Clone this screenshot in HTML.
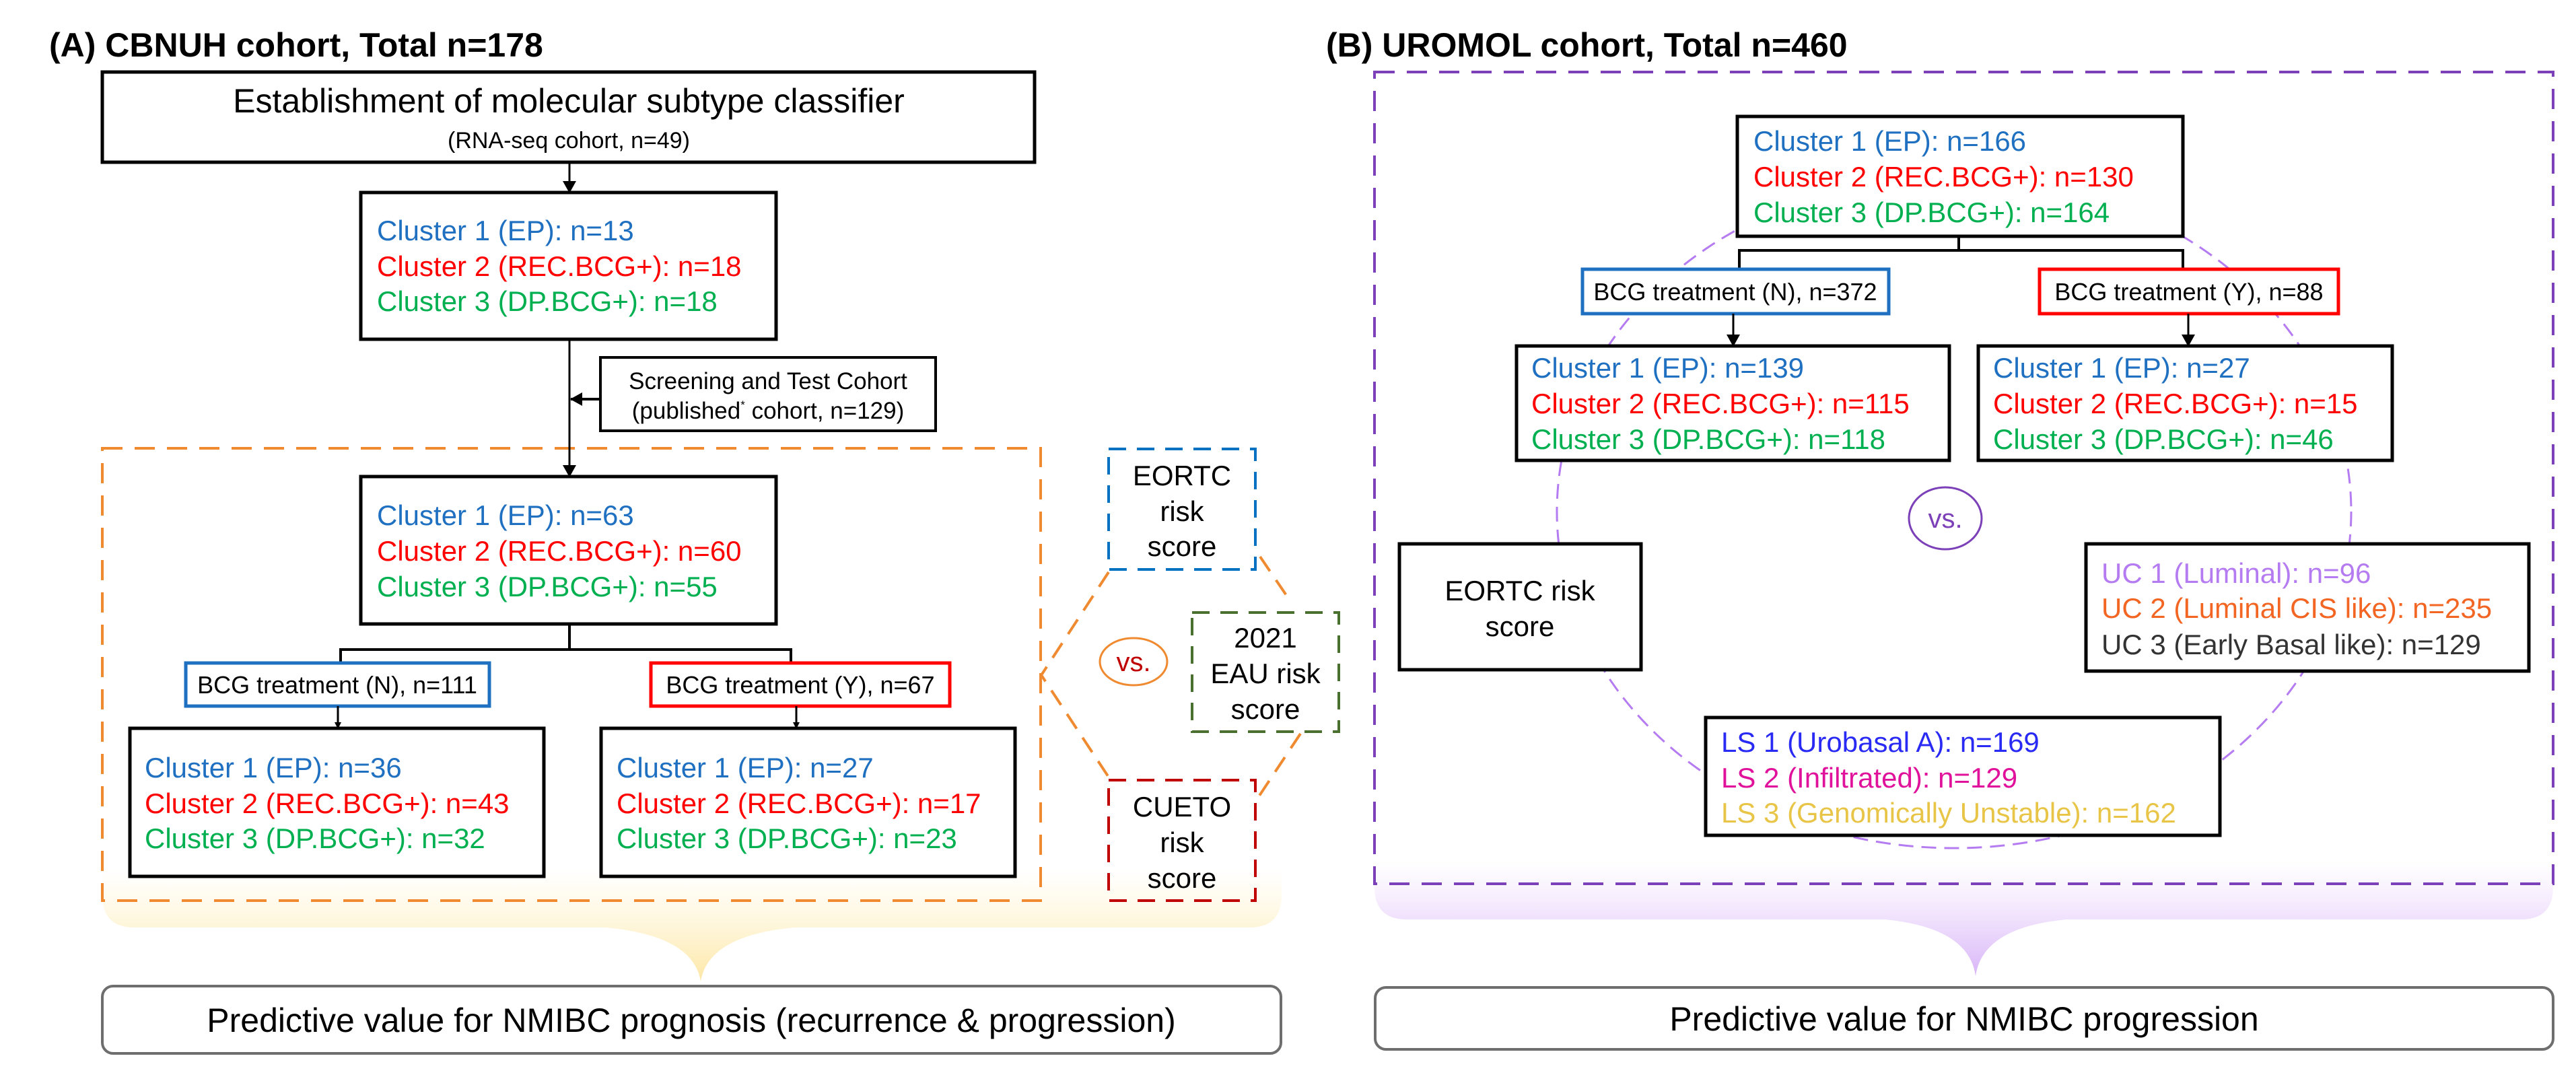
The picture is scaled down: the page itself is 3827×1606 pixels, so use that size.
<!DOCTYPE html>
<html><head><meta charset="utf-8"><style>
html,body{margin:0;padding:0;background:#fff;}
svg{display:block;}
text{font-family:"Liberation Sans",Arial,sans-serif;}
</style></head><body>
<svg width="3827" height="1606" viewBox="0 0 3827 1606" xmlns="http://www.w3.org/2000/svg">
<defs>
<linearGradient id="gy" x1="0" y1="0" x2="0" y2="1">
<stop offset="0" stop-color="#fff3c8" stop-opacity="0"/>
<stop offset="1" stop-color="#fde7a6"/>
</linearGradient>
<linearGradient id="gp" x1="0" y1="0" x2="0" y2="1">
<stop offset="0" stop-color="#e9d2fb" stop-opacity="0"/>
<stop offset="1" stop-color="#d8b4f8"/>
</linearGradient>
<marker id="ah" markerWidth="10" markerHeight="10" refX="9" refY="5" orient="auto" markerUnits="userSpaceOnUse">
<path d="M0,0 L10,5 L0,10 z" fill="#000"/>
</marker>
<marker id="ah2" markerWidth="18" markerHeight="20" refX="17" refY="10" orient="auto" markerUnits="userSpaceOnUse">
<path d="M0,0 L18,10 L0,20 z" fill="#000"/>
</marker>
</defs>

<!-- ================= A ================= -->
<text x="73" y="84" font-size="50" font-weight="bold">(A) CBNUH cohort, Total n=178</text>

<path d="M152,1290 L152,1330 Q152,1378 200,1378 L900,1378 Q1030,1390 1041,1458 Q1052,1390 1180,1378 L1856,1378 Q1904,1378 1904,1330 L1904,1290 Z" fill="url(#gy)"/>

<rect x="152" y="107" width="1385" height="134" fill="#fff" stroke="#000" stroke-width="5"/>
<text x="845" y="167" font-size="50" text-anchor="middle">Establishment of molecular subtype classifier</text>
<text x="845" y="220" font-size="34" text-anchor="middle">(RNA-seq cohort, n=49)</text>

<line x1="846" y1="241" x2="846" y2="286" stroke="#000" stroke-width="3" marker-end="url(#ah2)"/>

<rect x="536" y="286" width="617" height="218" fill="#fff" stroke="#000" stroke-width="5"/>
<g font-size="42">
<text x="560" y="357" fill="#1f70c1">Cluster 1 (EP): n=13</text>
<text x="560" y="410" fill="#ff0000">Cluster 2 (REC.BCG+): n=18</text>
<text x="560" y="462" fill="#00b050">Cluster 3 (DP.BCG+): n=18</text>
</g>

<rect x="152" y="666" width="1394" height="672" fill="none" stroke="#f08a30" stroke-width="4" stroke-dasharray="30,18"/>

<line x1="846" y1="504" x2="846" y2="708" stroke="#000" stroke-width="3" marker-end="url(#ah2)"/>
<rect x="892" y="531" width="498" height="109" fill="#fff" stroke="#000" stroke-width="4"/>
<text x="1141" y="578" font-size="35" text-anchor="middle">Screening and Test Cohort</text>
<text x="1141" y="622" font-size="35" text-anchor="middle">(published<tspan font-size="17" dy="-15">*</tspan><tspan dy="15"> cohort, n=129)</tspan></text>
<line x1="892" y1="593" x2="848" y2="593" stroke="#000" stroke-width="4" marker-end="url(#ah2)"/>

<rect x="536" y="708" width="617" height="219" fill="#fff" stroke="#000" stroke-width="5"/>
<g font-size="42">
<text x="560" y="780" fill="#1f70c1">Cluster 1 (EP): n=63</text>
<text x="560" y="833" fill="#ff0000">Cluster 2 (REC.BCG+): n=60</text>
<text x="560" y="886" fill="#00b050">Cluster 3 (DP.BCG+): n=55</text>
</g>

<path d="M846,927 L846,965 M506,985 L506,965 L1175,965 L1175,985" fill="none" stroke="#000" stroke-width="4"/>
<rect x="276" y="985" width="451" height="64" fill="#fff" stroke="#1f70c1" stroke-width="5"/>
<text x="501" y="1030" font-size="36" text-anchor="middle">BCG treatment (N), n=111</text>
<rect x="967" y="985" width="444" height="64" fill="#fff" stroke="#ff0000" stroke-width="5"/>
<text x="1189" y="1030" font-size="36" text-anchor="middle">BCG treatment (Y), n=67</text>
<line x1="502" y1="1049" x2="502" y2="1082" stroke="#000" stroke-width="3" marker-end="url(#ah)"/>
<line x1="1183" y1="1049" x2="1183" y2="1082" stroke="#000" stroke-width="3" marker-end="url(#ah)"/>

<rect x="193" y="1082" width="615" height="220" fill="#fff" stroke="#000" stroke-width="5"/>
<g font-size="42">
<text x="215" y="1155" fill="#1f70c1">Cluster 1 (EP): n=36</text>
<text x="215" y="1208" fill="#ff0000">Cluster 2 (REC.BCG+): n=43</text>
<text x="215" y="1260" fill="#00b050">Cluster 3 (DP.BCG+): n=32</text>
</g>
<rect x="893" y="1082" width="615" height="220" fill="#fff" stroke="#000" stroke-width="5"/>
<g font-size="42">
<text x="916" y="1155" fill="#1f70c1">Cluster 1 (EP): n=27</text>
<text x="916" y="1208" fill="#ff0000">Cluster 2 (REC.BCG+): n=17</text>
<text x="916" y="1260" fill="#00b050">Cluster 3 (DP.BCG+): n=23</text>
</g>

<g stroke="#f08a30" stroke-width="4" stroke-dasharray="26,16" fill="none">
<path d="M1647,850 L1547,1003 L1650,1159"/>
<path d="M1872,827 L1919,896"/>
<path d="M1932,1090 L1867,1188"/>
</g>
<ellipse cx="1684" cy="983" rx="50" ry="35" fill="#fff" stroke="#f08a30" stroke-width="3"/>
<text x="1684" y="997" font-size="40" text-anchor="middle" fill="#c00000">vs.</text>

<rect x="1647" y="667" width="218" height="179" fill="#fff" stroke="#0070c0" stroke-width="4" stroke-dasharray="26,16"/>
<g font-size="42" text-anchor="middle">
<text x="1756" y="721">EORTC</text><text x="1756" y="774">risk</text><text x="1756" y="826">score</text>
</g>
<rect x="1771" y="910" width="218" height="177" fill="#fff" stroke="#4a7030" stroke-width="4" stroke-dasharray="26,16"/>
<g font-size="42" text-anchor="middle">
<text x="1880" y="962">2021</text><text x="1880" y="1015">EAU risk</text><text x="1880" y="1068">score</text>
</g>
<rect x="1647" y="1159" width="218" height="179" fill="none" stroke="#c00000" stroke-width="4" stroke-dasharray="26,16"/>
<g font-size="42" text-anchor="middle">
<text x="1756" y="1213">CUETO</text><text x="1756" y="1266">risk</text><text x="1756" y="1319">score</text>
</g>

<rect x="152" y="1465" width="1751" height="100" rx="16" fill="#fff" stroke="#6e6e6e" stroke-width="4"/>
<text x="1027" y="1533" font-size="50" text-anchor="middle">Predictive value for NMIBC prognosis (recurrence &amp; progression)</text>

<!-- ================= B ================= -->
<text x="1970" y="84" font-size="50" font-weight="bold">(B) UROMOL cohort, Total n=460</text>

<path d="M2042,1280 L2042,1318 Q2042,1366 2090,1366 L2800,1366 Q2925,1378 2935,1450 Q2945,1378 3070,1366 L3745,1366 Q3793,1366 3793,1318 L3793,1280 Z" fill="url(#gp)"/>
<rect x="2042" y="107" width="1751" height="1206" fill="none" stroke="#7c40b8" stroke-width="4" stroke-dasharray="30,18"/>

<ellipse cx="2903" cy="760" rx="590" ry="500" fill="none" stroke="#b57cf2" stroke-width="3" stroke-dasharray="22,12"/>

<rect x="2581" y="173" width="662" height="178" fill="#fff" stroke="#000" stroke-width="5"/>
<g font-size="42">
<text x="2605" y="224" fill="#1f70c1">Cluster 1 (EP): n=166</text>
<text x="2605" y="277" fill="#ff0000">Cluster 2 (REC.BCG+): n=130</text>
<text x="2605" y="330" fill="#00b050">Cluster 3 (DP.BCG+): n=164</text>
</g>
<path d="M2910,351 L2910,372 M2584,400 L2584,372 L3243,372 L3243,400" fill="none" stroke="#000" stroke-width="4"/>
<rect x="2351" y="400" width="455" height="66" fill="#fff" stroke="#1f70c1" stroke-width="5"/>
<text x="2578" y="446" font-size="36" text-anchor="middle">BCG treatment (N), n=372</text>
<rect x="3030" y="400" width="444" height="66" fill="#fff" stroke="#ff0000" stroke-width="5"/>
<text x="3252" y="446" font-size="36" text-anchor="middle">BCG treatment (Y), n=88</text>
<line x1="2575" y1="466" x2="2575" y2="514" stroke="#000" stroke-width="3" marker-end="url(#ah2)"/>
<line x1="3251" y1="466" x2="3251" y2="514" stroke="#000" stroke-width="3" marker-end="url(#ah2)"/>

<rect x="2253" y="514" width="643" height="170" fill="#fff" stroke="#000" stroke-width="5"/>
<g font-size="42">
<text x="2275" y="561" fill="#1f70c1">Cluster 1 (EP): n=139</text>
<text x="2275" y="614" fill="#ff0000">Cluster 2 (REC.BCG+): n=115</text>
<text x="2275" y="667" fill="#00b050">Cluster 3 (DP.BCG+): n=118</text>
</g>
<rect x="2939" y="514" width="615" height="170" fill="#fff" stroke="#000" stroke-width="5"/>
<g font-size="42">
<text x="2961" y="561" fill="#1f70c1">Cluster 1 (EP): n=27</text>
<text x="2961" y="614" fill="#ff0000">Cluster 2 (REC.BCG+): n=15</text>
<text x="2961" y="667" fill="#00b050">Cluster 3 (DP.BCG+): n=46</text>
</g>

<ellipse cx="2890" cy="770" rx="54" ry="46" fill="#fff" stroke="#7c40b8" stroke-width="3"/>
<text x="2890" y="784" font-size="40" text-anchor="middle" fill="#7c40b8">vs.</text>

<rect x="2079" y="808" width="359" height="187" fill="#fff" stroke="#000" stroke-width="5"/>
<text x="2258" y="892" font-size="42" text-anchor="middle">EORTC risk</text>
<text x="2258" y="945" font-size="42" text-anchor="middle">score</text>

<rect x="3099" y="808" width="658" height="189" fill="#fff" stroke="#000" stroke-width="5"/>
<g font-size="42">
<text x="3122" y="866" fill="#b57cf2">UC 1 (Luminal): n=96</text>
<text x="3122" y="918" fill="#f26522">UC 2 (Luminal CIS like): n=235</text>
<text x="3122" y="972" fill="#333">UC 3 (Early Basal like): n=129</text>
</g>

<rect x="2534" y="1066" width="764" height="175" fill="#fff" stroke="#000" stroke-width="5"/>
<g font-size="42">
<text x="2557" y="1117" fill="#2a2af5">LS 1 (Urobasal A): n=169</text>
<text x="2557" y="1170" fill="#e0119a">LS 2 (Infiltrated): n=129</text>
<text x="2557" y="1222" fill="#e8c547">LS 3 (Genomically Unstable): n=162</text>
</g>

<rect x="2043" y="1467" width="1750" height="92" rx="16" fill="#fff" stroke="#6e6e6e" stroke-width="4"/>
<text x="2918" y="1531" font-size="50" text-anchor="middle">Predictive value for NMIBC progression</text>
</svg>
</body></html>
